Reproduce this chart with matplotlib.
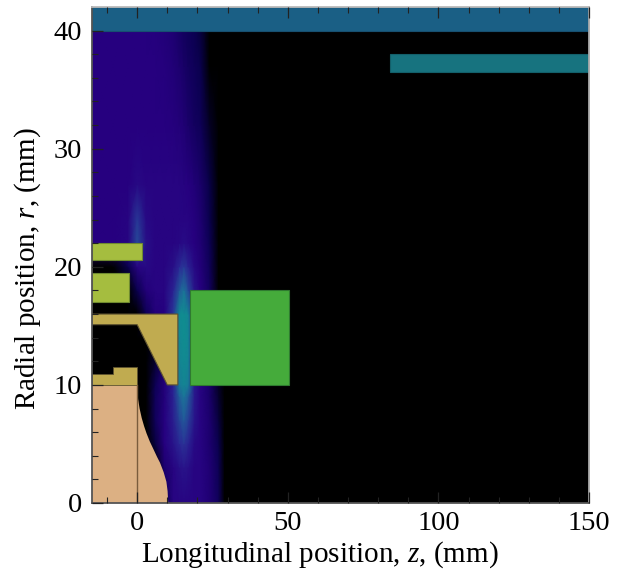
import numpy as np
import matplotlib.pyplot as plt
from matplotlib.colors import LinearSegmentedColormap
from matplotlib.patches import Polygon, Rectangle

plt.rcParams['font.family'] = 'Liberation Serif'
plt.rcParams['mathtext.fontset'] = 'custom'
plt.rcParams['mathtext.rm'] = 'Liberation Serif'
plt.rcParams['mathtext.it'] = 'Liberation Serif:italic'

# field, 0 = black, 0.3 = indigo, 0.9 = teal
z_grid = [-15, -8, -3, 0, 3, 6, 9, 12, 14, 15.5, 17, 19, 21, 24, 27, 29, 150]
r_grid = [0, 3, 5, 7, 9, 10, 12, 14, 16, 18, 20, 22, 24, 27, 32, 37, 42]
field = [
    [0.00, 0.00, 0.00, 0.00, 0.00, 0.00, 0.10, 0.30, 0.30, 0.30, 0.30, 0.30, 0.30, 0.24, 0.14, 0.00, 0.00],
    [0.00, 0.00, 0.00, 0.00, 0.00, 0.00, 0.22, 0.30, 0.34, 0.36, 0.34, 0.30, 0.30, 0.24, 0.12, 0.00, 0.00],
    [0.00, 0.00, 0.00, 0.00, 0.00, 0.08, 0.28, 0.36, 0.44, 0.48, 0.42, 0.32, 0.30, 0.22, 0.10, 0.00, 0.00],
    [0.00, 0.00, 0.00, 0.00, 0.00, 0.14, 0.28, 0.40, 0.54, 0.62, 0.52, 0.36, 0.30, 0.22, 0.08, 0.00, 0.00],
    [0.00, 0.00, 0.00, 0.00, 0.00, 0.14, 0.26, 0.42, 0.64, 0.76, 0.62, 0.38, 0.30, 0.20, 0.06, 0.00, 0.00],
    [0.00, 0.00, 0.00, 0.00, 0.00, 0.12, 0.26, 0.42, 0.82, 0.90, 0.82, 0.38, 0.30, 0.20, 0.05, 0.00, 0.00],
    [0.00, 0.00, 0.00, 0.00, 0.00, 0.06, 0.24, 0.42, 0.90, 0.95, 0.90, 0.38, 0.30, 0.20, 0.04, 0.00, 0.00],
    [0.00, 0.00, 0.00, 0.00, 0.00, 0.05, 0.24, 0.44, 0.92, 0.98, 0.92, 0.40, 0.30, 0.18, 0.03, 0.00, 0.00],
    [0.00, 0.00, 0.00, 0.00, 0.12, 0.26, 0.28, 0.50, 0.95, 0.98, 0.90, 0.40, 0.30, 0.18, 0.02, 0.00, 0.00],
    [0.00, 0.00, 0.00, 0.10, 0.26, 0.30, 0.30, 0.42, 0.62, 0.74, 0.56, 0.36, 0.28, 0.16, 0.00, 0.00, 0.00],
    [0.00, 0.00, 0.10, 0.30, 0.32, 0.30, 0.30, 0.34, 0.44, 0.50, 0.42, 0.32, 0.26, 0.14, 0.00, 0.00, 0.00],
    [0.28, 0.28, 0.30, 0.56, 0.34, 0.30, 0.30, 0.30, 0.31, 0.33, 0.31, 0.28, 0.24, 0.12, 0.00, 0.00, 0.00],
    [0.28, 0.28, 0.30, 0.50, 0.32, 0.30, 0.30, 0.30, 0.30, 0.30, 0.30, 0.27, 0.23, 0.10, 0.00, 0.00, 0.00],
    [0.28, 0.28, 0.28, 0.32, 0.30, 0.30, 0.30, 0.30, 0.30, 0.29, 0.28, 0.25, 0.20, 0.09, 0.00, 0.00, 0.00],
    [0.28, 0.28, 0.28, 0.28, 0.28, 0.28, 0.28, 0.27, 0.26, 0.24, 0.20, 0.16, 0.13, 0.05, 0.00, 0.00, 0.00],
    [0.28, 0.28, 0.28, 0.28, 0.28, 0.28, 0.27, 0.25, 0.22, 0.19, 0.16, 0.13, 0.10, 0.00, 0.00, 0.00, 0.00],
    [0.28, 0.28, 0.28, 0.28, 0.28, 0.27, 0.25, 0.22, 0.17, 0.14, 0.12, 0.10, 0.07, 0.00, 0.00, 0.00, 0.00],
]

nose_z = [-15, 0, 0.3, 0.8, 1.5, 2.3, 3.1, 4.2, 5.5, 6.6, 7.6, 8.8, 9.7, 10.1, 10.3, -15]
nose_r = [10, 10, 8.8, 8.0, 7.2, 6.5, 5.9, 5.2, 4.5, 3.9, 3.4, 2.6, 1.8, 1.0, 0, 0]
upper_gold_z = [-15, 13.5, 13.5, 10, 0, -15]
upper_gold_r = [16, 16, 10, 10, 15.1, 15.1]
lower_gold_z = [-15, -8, -8, 0, 0, -15]
lower_gold_r = [10.9, 10.9, 11.5, 11.5, 10, 10]

# (z0, z1, r0, r1, colour, edge colour)
blocks = [
    (17.4, 50.4, 10, 18, '#45ab3b', '#2f7a30'),
    (-15, 1.5, 20.6, 22, '#a5bd3f', '#6f8a30'),
    (-15, -2.7, 17, 19.5, '#a5bd3f', '#6f8a30'),
    (-15, 150, 40, 42, '#1a5f85', '#174f70'),
    (84, 150, 36.5, 38, '#17737f', '#135f6a'),
]

cmap = LinearSegmentedColormap.from_list(
    'field', [(0, '#000000'), (0.1, '#0a0050'), (0.28, '#26007f'),
              (0.45, '#2b2a96'), (0.7, '#1e6f9a'), (1, '#0f8f8f')])

fig = plt.figure(figsize=(6.22, 5.71), dpi=100)
ax = fig.add_axes([92 / 622, 68 / 571, 497 / 622, 496 / 571])
ax.set_facecolor('black')

ax.pcolormesh(z_grid, r_grid, np.array(field), cmap=cmap, vmin=0, vmax=1,
              shading='gouraud', zorder=0)

edge = '#5f5430'
ax.add_patch(Polygon(np.column_stack([nose_z, nose_r]), fc='#dcb083', ec='none'))
ax.plot([0, 0], [0, 10], color='#7a5c3c', lw=1.0, zorder=1.5)
ax.add_patch(Polygon(np.column_stack([upper_gold_z, upper_gold_r]), fc='#c0ab50', ec=edge, lw=0.8))
ax.add_patch(Polygon(np.column_stack([lower_gold_z, lower_gold_r]), fc='#c0ab50', ec=edge, lw=0.6))
for z0, z1, r0, r1, colour, line in blocks:
    ax.add_patch(Rectangle((z0, r0), z1 - z0, r1 - r0, fc=colour, ec=line, lw=0.8))

ax.set_xlim(-15, 150)
ax.set_ylim(0, 42)
ax.set_xticks([0, 50, 100, 150])
ax.set_yticks([0, 10, 20, 30, 40])
ax.set_xticks(np.arange(-10, 150, 10), minor=True)
ax.set_yticks(np.arange(0, 42, 2), minor=True)
ax.set_axisbelow(False)
ax.tick_params(which='major', direction='in', top=True, right=False, length=8, width=0.9,
               color='#222222', labelsize=20.5, pad=6)
ax.tick_params(which='minor', direction='in', top=True, right=False, length=4, width=0.8,
               color='#222222')
ax.tick_params(axis='y', which='major', pad=7)
ax.spines['left'].set_color('#555555')
ax.spines['bottom'].set_color('#555555')
ax.spines['top'].set_color('#bbbbbb')
ax.spines['right'].set_color('#aaaaaa')
for s in ax.spines.values():
    s.set_linewidth(1.3)

ax.set_xlabel('Longitudinal position, $z$, (mm)', fontsize=21)
ax.set_ylabel('Radial position, $r$, (mm)', fontsize=21)
ax.xaxis.set_label_coords(0.459, -0.073)
ax.yaxis.set_label_coords(-0.098, 0.472)

fig.savefig('out.png', dpi=100)
